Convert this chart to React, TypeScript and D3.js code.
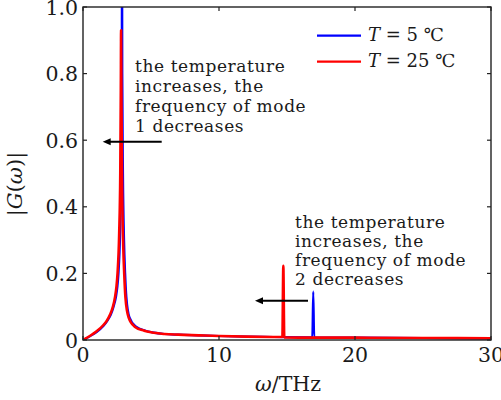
import React from "react";
import * as d3 from "d3";

// T = 5 ℃ (blue)
const omegaT5 = [0, 0.5, 1.0, 1.5, 1.8, 2.05, 2.25, 2.42, 2.53, 2.61, 2.73, 2.81, 2.85, 2.87, 2.89, 2.94, 3.02, 3.1, 3.19, 3.42, 3.9, 4.6, 5.1, 6.0, 7.0, 8.5, 10, 12, 14, 16.86, 16.93, 17.0, 20, 25, 30];
const gT5 = [0, 0.011, 0.024, 0.042, 0.058, 0.076, 0.1, 0.128, 0.16, 0.2, 0.32, 0.5, 0.8, 1.3, 0.8, 0.5, 0.3, 0.2, 0.13, 0.068, 0.04, 0.028, 0.023, 0.018, 0.016, 0.014, 0.012, 0.01, 0.009, 0.008, 0.145, 0.008, 0.007, 0.006, 0.005];

// T = 25 ℃ (red)
const omegaT25 = [0, 0.5, 1.0, 1.5, 1.75, 2.0, 2.2, 2.35, 2.46, 2.54, 2.66, 2.74, 2.78, 2.8, 2.83, 2.88, 2.96, 3.03, 3.12, 3.35, 3.8, 4.5, 5.0, 6.0, 7.0, 8.5, 10, 12, 14.66, 14.73, 14.8, 17, 20, 25, 30];
const gT25 = [0, 0.012, 0.026, 0.045, 0.058, 0.077, 0.1, 0.128, 0.16, 0.2, 0.32, 0.5, 0.75, 0.93, 0.7, 0.45, 0.28, 0.2, 0.128, 0.068, 0.04, 0.028, 0.023, 0.018, 0.016, 0.014, 0.012, 0.01, 0.009, 0.223, 0.008, 0.007, 0.007, 0.006, 0.005];

const xTicks = [0, 10, 20, 30];
const yTicks = [0, 0.2, 0.4, 0.6, 0.8, 1.0];
const yTickLabels = ["0", "0.2", "0.4", "0.6", "0.8", "1.0"];

const annotation1 = ["the temperature", "increases, the", "frequency of mode", "1 decreases"];
const annotation2 = ["the temperature", "increases, the", "frequency of mode", "2 decreases"];

const W = 501, H = 400;
const L = 83, R = 491, T = 7, B = 340;
const FONT = "'DejaVu Serif', serif";
const AX = "#222";
const TXT = "#1a1a1a";

export default function App() {
  const x = d3.scaleLinear().domain([0, 30]).range([L, R]);
  const y = d3.scaleLinear().domain([0, 1]).range([B, T]);
  const line = d3.line<[number, number]>().x(d => x(d[0])).y(d => y(d[1])).curve(d3.curveMonotoneX);
  const blue = line(omegaT5.map((w, i) => [w, gT5[i]]) as [number, number][]) || "";
  const red = line(omegaT25.map((w, i) => [w, gT25[i]]) as [number, number][]) || "";

  const arrow = (x1: number, x2: number, yy: number, key: string) => (
    <g key={key}>
      <line x1={x1} y1={yy} x2={x2 + 6} y2={yy} stroke="#000" strokeWidth={2} />
      <path d={`M${x2},${yy} L${x2 + 8},${yy - 3.5} L${x2 + 8},${yy + 3.5} Z`} fill="#000" />
    </g>
  );

  return (
    <svg width={W} height={H} style={{ position: "absolute", left: 0, top: 0, background: "#fff" }} fontFamily={FONT}>
      <defs>
        <clipPath id="plotclip">
          <rect x={L} y={T} width={R - L} height={B - T} />
        </clipPath>
      </defs>
      <rect x={0} y={0} width={W} height={H} fill="#fff" />
      <g clipPath="url(#plotclip)">
        <path d={blue} fill="none" stroke="#0000ff" strokeWidth={2.2} strokeLinejoin="round" />
        <path d={red} fill="none" stroke="#ff0000" strokeWidth={2.6} strokeLinejoin="round" />
      </g>
      {/* frame */}
      <rect x={L} y={T} width={R - L} height={B - T} fill="none" stroke={AX} strokeWidth={1.4} />
      {xTicks.map(t => (
        <g key={"xt" + t}>
          <line x1={x(t)} x2={x(t)} y1={B} y2={B - 4} stroke={AX} strokeWidth={1.2} />
          <line x1={x(t)} x2={x(t)} y1={T} y2={T + 4} stroke={AX} strokeWidth={1.2} />
          <text x={x(t)} y={362} textAnchor="middle" fontSize={20.5} fill={TXT}>{t}</text>
        </g>
      ))}
      {yTicks.map((t, i) => (
        <g key={"yt" + t}>
          <line x1={L} x2={L + 4} y1={y(t)} y2={y(t)} stroke={AX} strokeWidth={1.2} />
          <line x1={R} x2={R - 4} y1={y(t)} y2={y(t)} stroke={AX} strokeWidth={1.2} />
          <text x={78} y={y(t)} dy="0.37em" textAnchor="end" fontSize={20.5} fill={TXT}>{yTickLabels[i]}</text>
        </g>
      ))}
      {/* axis labels */}
      <text x={288} y={391} textAnchor="middle" fontSize={20.5} fill={TXT}>
        <tspan fontStyle="italic">ω</tspan>/THz
      </text>
      <text transform="translate(22,184) rotate(-90)" textAnchor="middle" fontSize={21} fill={TXT}>
        |<tspan fontStyle="italic">G</tspan>(<tspan fontStyle="italic">ω</tspan>)|
      </text>
      {/* legend */}
      <line x1={317} x2={361} y1={35.7} y2={35.7} stroke="#0000ff" strokeWidth={2.2} />
      <text x={368} y={40.7} fontSize={18} fill={TXT}>
        <tspan fontStyle="italic">T</tspan> = 5 ℃
      </text>
      <line x1={317} x2={361} y1={61.7} y2={61.7} stroke="#ff0000" strokeWidth={2.2} />
      <text x={368} y={66.7} fontSize={18} fill={TXT}>
        <tspan fontStyle="italic">T</tspan> = 25 ℃
      </text>
      {/* annotations */}
      {annotation1.map((s, i) => (
        <text key={"a1" + i} x={135} y={71.7 + i * 20} fontSize={17} letterSpacing={0.6} fill={TXT}>{s}</text>
      ))}
      {annotation2.map((s, i) => (
        <text key={"a2" + i} x={295} y={227.7 + i * 19} fontSize={17} letterSpacing={0.6} fill={TXT}>{s}</text>
      ))}
      {arrow(161.7, 102.7, 141.7, "ar1")}
      {arrow(308, 255, 300.7, "ar2")}
    </svg>
  );
}
